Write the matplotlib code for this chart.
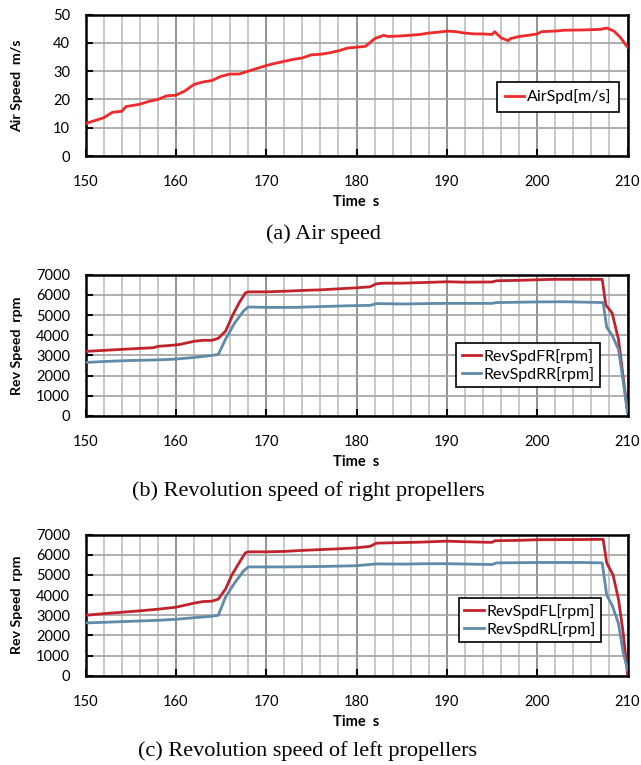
import matplotlib
matplotlib.use("Agg")
import matplotlib.pyplot as plt
import numpy as np

# ---------------- data ----------------
air_t = [150, 151, 152, 153, 154, 154.5, 156, 157, 158, 159, 160, 161, 162, 163, 164,
         165, 166, 167, 168, 169, 170, 171, 172, 173, 174, 175, 176, 177, 178, 179,
         180, 181, 182, 183, 183.5, 185, 187, 188, 189, 190, 191, 192, 193, 194, 195,
         195.3, 196, 196.8, 197, 198, 199, 200, 200.5, 202, 203, 205, 207, 207.7,
         208.5, 209.2, 210]
air_v = [11.5, 12.5, 13.5, 15.5, 15.8, 17.5, 18.3, 19.3, 20, 21.3, 21.5, 23, 25.3, 26.2, 26.7,
         28.2, 29, 29, 30, 31, 32, 32.8, 33.5, 34.2, 34.7, 35.8, 36, 36.5, 37.2, 38.2,
         38.5, 38.8, 41.5, 42.7, 42.3, 42.5, 43, 43.5, 43.8, 44.2, 44, 43.5, 43.2, 43.2, 43,
         44, 41.8, 40.8, 41.5, 42.3, 42.7, 43.2, 44, 44.2, 44.5, 44.6, 44.8, 45.3,
         44.2, 42, 38.5]

fr_t = [150, 152, 154, 156, 157.5, 158, 159.5, 160.5, 162, 163, 164, 164.7, 165.5, 166.3,
        167, 167.7, 168, 170, 172, 174, 176, 178, 180, 181.5, 182.2, 183, 185, 188, 190,
        192, 195, 195.5, 198, 200, 202, 205, 207.2, 207.6, 208.3, 209, 209.5, 210]
fr_v = [3200, 3250, 3300, 3350, 3380, 3450, 3500, 3550, 3700, 3750, 3750, 3850, 4200, 5000,
        5600, 6100, 6150, 6150, 6180, 6220, 6250, 6300, 6350, 6400, 6550, 6580, 6580, 6620, 6650,
        6630, 6640, 6700, 6720, 6750, 6770, 6770, 6770, 5500, 5100, 3800, 2000, 200]

rr_t = [150, 152, 155, 158, 160, 162, 164, 164.7, 165.5, 166.5, 167.5, 168, 170, 173, 176,
        179, 181.5, 182.2, 185, 188, 190, 195, 195.5, 200, 203, 207.3, 207.7, 208.3, 209,
        209.5, 210]
rr_v = [2650, 2700, 2750, 2780, 2820, 2900, 3000, 3050, 3800, 4600, 5200, 5400, 5380, 5380, 5420,
        5460, 5480, 5570, 5550, 5570, 5580, 5580, 5620, 5650, 5660, 5620, 4400, 4000, 3300,
        1800, 200]

fl_t = [150, 152, 154, 156, 158, 159, 160, 161, 162, 163, 164, 164.7, 165.5, 166.2, 167,
        167.7, 168, 170, 172, 174, 176, 178, 180, 181.5, 182.2, 184, 187, 190, 192, 195,
        195.3, 198, 200, 205, 207.3, 207.7, 208.4, 209, 209.5, 210]
fl_v = [3000, 3080, 3150, 3220, 3300, 3350, 3400, 3500, 3600, 3680, 3700, 3800, 4300, 5000, 5600,
        6100, 6150, 6150, 6170, 6220, 6260, 6300, 6350, 6420, 6580, 6600, 6630, 6680, 6650, 6620,
        6700, 6720, 6750, 6760, 6770, 5600, 5000, 3800, 2200, 100]

rl_t = [150, 152, 155, 158, 160, 162, 164, 164.7, 165.5, 166.5, 167.5, 168, 172, 176, 180,
        182.2, 185, 188, 190, 195, 195.5, 200, 205, 207.2, 207.7, 208.3, 209, 209.5, 210]
rl_v = [2620, 2650, 2700, 2750, 2800, 2880, 2950, 3000, 3900, 4600, 5200, 5400, 5400, 5420, 5460,
        5550, 5540, 5560, 5560, 5520, 5600, 5620, 5620, 5600, 4000, 3500, 2600, 1200, 300]

x_ticks = [150, 160, 170, 180, 190, 200, 210]
air_yticks = [0, 10, 20, 30, 40, 50]
rev_yticks = [0, 1000, 2000, 3000, 4000, 5000, 6000, 7000]

captions = ["(a) Air speed", "(b) Revolution speed of right propellers",
            "(c) Revolution speed of left propellers"]

RED_AIR = "#ee2a2a"
RED = "#c0232b"
BLUE = "#5f8aa8"

W, H = 641, 765
AX_L, AX_R = 85.5, 627.5
fig = plt.figure(figsize=(W / 100, H / 100), dpi=100)
plt.rcParams['font.family'] = ['Lato', 'DejaVu Sans']


def ax_rect(top_px, bottom_px):
    return [AX_L / W, 1 - bottom_px / H, (AX_R - AX_L) / W, (bottom_px - top_px) / H]


def style_axes(ax, yticks, ylabel):
    ax.set_xlim(150, 210)
    ax.set_ylim(yticks[0], yticks[-1])
    ax.set_xticks(x_ticks)
    ax.set_xticks(np.arange(150, 211, 2), minor=True)
    ax.set_yticks(yticks)
    ax.grid(which='minor', axis='x', color='#c4c4c4', lw=1.3, zorder=0)
    ax.grid(which='major', axis='x', color='#8a8a8a', lw=1.3, zorder=0)
    ax.grid(which='major', axis='y', color='#a8a8a8', lw=1.3, zorder=0)
    ax.tick_params(which='major', direction='in', length=5, width=1.5, labelsize=10.5,
                   color='black')
    ax.tick_params(axis='x', which='major', pad=14)
    ax.tick_params(axis='y', which='major', pad=11)
    ax.tick_params(which='minor', length=0)
    for s in ax.spines.values():
        s.set_linewidth(1.8)
        s.set_color('black')
    ax.set_xlabel("Time  s", fontsize=10.5, fontweight='bold', labelpad=4)
    ax.set_ylabel(ylabel, fontsize=10.2, fontweight='bold')
    ax.yaxis.set_label_coords((23 - AX_L) / (AX_R - AX_L), 0.5)


def make_legend(ax, loc, anchor, borderpad=0.35):
    leg = ax.legend(loc=loc, bbox_to_anchor=anchor, fontsize=11.5, frameon=True,
                    fancybox=False, edgecolor='black', framealpha=1, handlelength=1.2,
                    handletextpad=0.15, borderpad=borderpad, borderaxespad=0,
                    labelspacing=0.2)
    leg.get_frame().set_linewidth(1.2)


# (a)
ax1 = fig.add_axes(ax_rect(14.7, 156))
ax1.plot(air_t, air_v, color=RED_AIR, lw=2.0, label="AirSpd[m/s]", zorder=3)
style_axes(ax1, air_yticks, "Air Speed  m/s")
make_legend(ax1, 'center right', ((619 - AX_L) / (AX_R - AX_L), (156 - 97) / (156 - 14.7)),
            borderpad=0.5)

# (b)
ax2 = fig.add_axes(ax_rect(274.7, 416))
ax2.plot(fr_t, fr_v, color=RED, lw=2.0, label="RevSpdFR[rpm]", zorder=3)
ax2.plot(rr_t, rr_v, color=BLUE, lw=2.0, label="RevSpdRR[rpm]", zorder=3)
style_axes(ax2, rev_yticks, "Rev Speed  rpm")
make_legend(ax2, 'upper right', ((600 - AX_L) / (AX_R - AX_L), (416 - 343) / (416 - 274.7)))

# (c)
ax3 = fig.add_axes(ax_rect(534.7, 675.7))
ax3.plot(fl_t, fl_v, color=RED, lw=2.0, label="RevSpdFL[rpm]", zorder=3)
ax3.plot(rl_t, rl_v, color=BLUE, lw=2.0, label="RevSpdRL[rpm]", zorder=3)
style_axes(ax3, rev_yticks, "Rev Speed  rpm")
make_legend(ax3, 'upper right', ((601 - AX_L) / (AX_R - AX_L), (675.7 - 598) / (675.7 - 534.7)))

cap_x = [323, 308, 308]
cap_y = [234, 491, 751]
for c, x, y in zip(captions, cap_x, cap_y):
    fig.text(x / W, 1 - y / H, c, ha='center', va='center',
             fontsize=16, family='Liberation Serif')

fig.savefig("out.png", dpi=100)
